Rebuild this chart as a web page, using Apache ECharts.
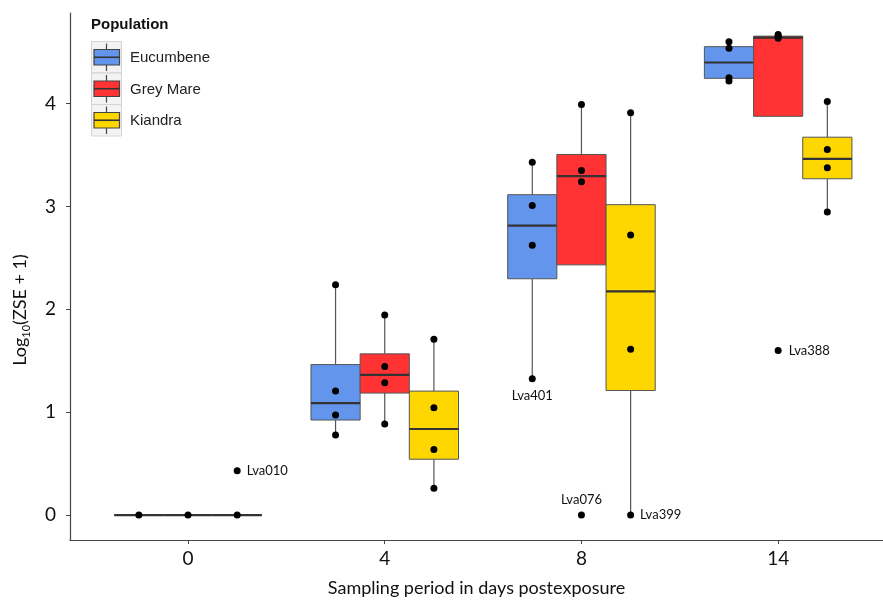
<!DOCTYPE html>
<html>
<head>
<meta charset="utf-8">
<script src="https://cdn.jsdelivr.net/npm/echarts@6/dist/echarts.min.js"></script>
<style>html,body{margin:0;padding:0;background:#fff}#c{width:883px;height:602px}</style>
</head>
<body>
<div id="c"></div>
<script>
// ---- data ----
const days = ['0', '4', '8', '14'];
const populations = ['Eucumbene', 'Grey Mare', 'Kiandra'];
// box stats per day: [lower whisker, Q1, median, Q3, upper whisker]
const eucumbeneBox = [[0,0,0,0,0],[0.779,0.924,1.089,1.463,2.24],[1.325,2.297,2.814,3.114,3.43],[4.22,4.245,4.399,4.553,4.60]];
const greyMareBox  = [[0,0,0,0,0],[0.886,1.186,1.363,1.567,1.945],[2.432,2.432,3.295,3.505,3.99],[3.876,3.876,4.64,4.655,4.67]];
const kiandraBox   = [[0,0,0,0,0],[0.262,0.543,0.837,1.205,1.709],[0,1.211,2.174,3.017,3.91],[2.946,3.269,3.463,3.673,4.02]];
// individual observations per day
const eucumbenePts = [[0],[2.24,1.205,0.973,0.779],[3.43,3.008,2.623,1.325],[4.60,4.538,4.25,4.22]];
const greyMarePts  = [[0],[1.945,1.444,1.286,0.886],[3.99,3.35,3.24,0],[4.67,4.655,4.635,1.6]];
const kiandraPts   = [[0,0.43],[1.709,1.044,0.637,0.262],[3.91,2.723,1.612,0],[4.02,3.553,3.376,2.946]];
// labelled outliers: [name, population index, day index, value]
const outlierNames = ['Lva010','Lva401','Lva076','Lva399','Lva388'];
const outlierPop   = [2, 0, 1, 2, 1];
const outlierDay   = [0, 2, 2, 2, 3];
const outlierVal   = [0.43, 1.325, 0, 0, 1.6];
const yTicks = [0, 1, 2, 3, 4];

// ---- styling ----
const colors = ['#6495ED', '#FF3333', '#FFD700'];
const offsets = [-0.25, 0, 0.25];
const labelPlacement = {
  Lva010: {position: 'right', distance: 6},
  Lva401: {position: 'bottom', distance: 7},
  Lva076: {position: 'top', distance: 5},
  Lva399: {position: 'right', distance: 6},
  Lva388: {position: 'right', distance: 7}
};
const boxes = [eucumbeneBox, greyMareBox, kiandraBox];
const pts = [eucumbenePts, greyMarePts, kiandraPts];

function renderBox(color) {
  return function (params, api) {
    const x = api.value(0);
    const lo = api.coord([x, api.value(1)]);
    const q1 = api.coord([x, api.value(2)]);
    const md = api.coord([x, api.value(3)]);
    const q3 = api.coord([x, api.value(4)]);
    const hi = api.coord([x, api.value(5)]);
    const w = api.size([0.25, 0])[0];
    const cx = lo[0], left = cx - w / 2;
    const wStyle = {stroke: '#555', lineWidth: 1.2};
    return {type: 'group', children: [
      {type: 'line', shape: {x1: cx, y1: hi[1], x2: cx, y2: q3[1]}, style: wStyle},
      {type: 'line', shape: {x1: cx, y1: q1[1], x2: cx, y2: lo[1]}, style: wStyle},
      {type: 'rect', shape: {x: left, y: q3[1], width: w, height: q1[1] - q3[1]}, style: {fill: color, stroke: '#555', lineWidth: 1}},
      {type: 'line', shape: {x1: left, y1: md[1], x2: left + w, y2: md[1]}, style: {stroke: '#333', lineWidth: 2.2}}
    ]};
  };
}

const series = [];
populations.forEach((p, i) => {
  series.push({
    name: p, type: 'custom', renderItem: renderBox(colors[i]),
    encode: {x: 0, y: [1, 2, 3, 4, 5]},
    data: boxes[i].map((b, d) => [d + offsets[i]].concat(b)),
    z: 2
  });
});
populations.forEach((p, i) => {
  const data = [];
  pts[i].forEach((arr, d) => arr.forEach(v => {
    const item = {value: [d + offsets[i], v]};
    outlierNames.forEach((n, k) => {
      if (outlierPop[k] === i && outlierDay[k] === d && Math.abs(outlierVal[k] - v) < 1e-9) {
        item.label = Object.assign({show: true, formatter: n}, labelPlacement[n]);
      }
    });
    data.push(item);
  }));
  series.push({
    name: p + ' points', type: 'scatter', symbol: 'circle', symbolSize: 7,
    itemStyle: {color: '#000', opacity: 1}, data: data, z: 5,
    label: {show: false, fontFamily: 'Lato', fontSize: 13, color: '#111'}
  });
});

// legend drawn as graphic keys
const legendGraphic = [{type: 'text', left: 91, top: 17, style: {text: 'Population', font: 'bold 15px "Liberation Sans", Arial', fill: '#111'}}];
populations.forEach((p, i) => {
  const top = 41.5 + i * 31.5;
  legendGraphic.push({type: 'rect', shape: {x: 91.5, y: top, width: 30, height: 31.5}, style: {fill: '#f3f3f3', stroke: '#d4d4d4', lineWidth: 1}});
  legendGraphic.push({type: 'line', shape: {x1: 106.5, y1: top + 2, x2: 106.5, y2: top + 29.5}, style: {stroke: '#444', lineWidth: 1.2}});
  legendGraphic.push({type: 'rect', shape: {x: 94, y: top + 8, width: 25.5, height: 15.5}, style: {fill: colors[i], stroke: '#444', lineWidth: 1.2}});
  legendGraphic.push({type: 'line', shape: {x1: 94, y1: top + 15.75, x2: 119.5, y2: top + 15.75}, style: {stroke: '#333', lineWidth: 1.6}});
  legendGraphic.push({type: 'text', x: 130, y: top + 16.5, style: {text: p, font: '15px "Liberation Sans", Arial', fill: '#222', verticalAlign: 'middle'}});
});
legendGraphic.push({
  type: 'text', x: 20, y: 310, rotation: Math.PI / 2,
  style: {
    text: '{a|Log}{b|10}{a|(ZSE + 1)}', align: 'center', verticalAlign: 'middle',
    rich: {
      a: {fontFamily: 'Lato', fontSize: 18, lineHeight: 24, verticalAlign: 'middle', fill: '#111'},
      b: {fontFamily: 'Lato', fontSize: 11, lineHeight: 12, verticalAlign: 'bottom', fill: '#111'}
    }
  }
});

const chart = echarts.init(document.getElementById('c'), null, {renderer: 'canvas'});
chart.setOption({
  backgroundColor: '#fff',
  animation: false,
  grid: {left: 70, right: 0, top: 13, bottom: 60.3, containLabel: false},
  xAxis: {
    type: 'value', min: -0.6, max: 3.533,
    axisLine: {show: true, onZero: false, lineStyle: {color: '#444', width: 1.2}},
    axisTick: {show: true, length: 4, customValues: [0, 1, 2, 3], lineStyle: {color: '#444', width: 1}},
    axisLabel: {customValues: [0, 1, 2, 3], formatter: v => days[Math.round(v)], fontFamily: 'Lato', fontSize: 19, color: '#111', margin: 9},
    splitLine: {show: false},
    name: 'Sampling period in days postexposure', nameLocation: 'middle', nameGap: 39,
    nameTextStyle: {fontFamily: 'Lato', fontSize: 18, color: '#111'}
  },
  yAxis: {
    type: 'value', min: -0.242, max: 4.88,
    axisLine: {show: true, onZero: false, lineStyle: {color: '#444', width: 1.2}},
    axisTick: {show: true, length: 4, customValues: yTicks, lineStyle: {color: '#444', width: 1}},
    axisLabel: {customValues: yTicks, fontFamily: 'Lato', fontSize: 19, color: '#111', margin: 14},
    splitLine: {show: false}
  },
  graphic: legendGraphic,
  series: series
});
</script>
</body>
</html>
